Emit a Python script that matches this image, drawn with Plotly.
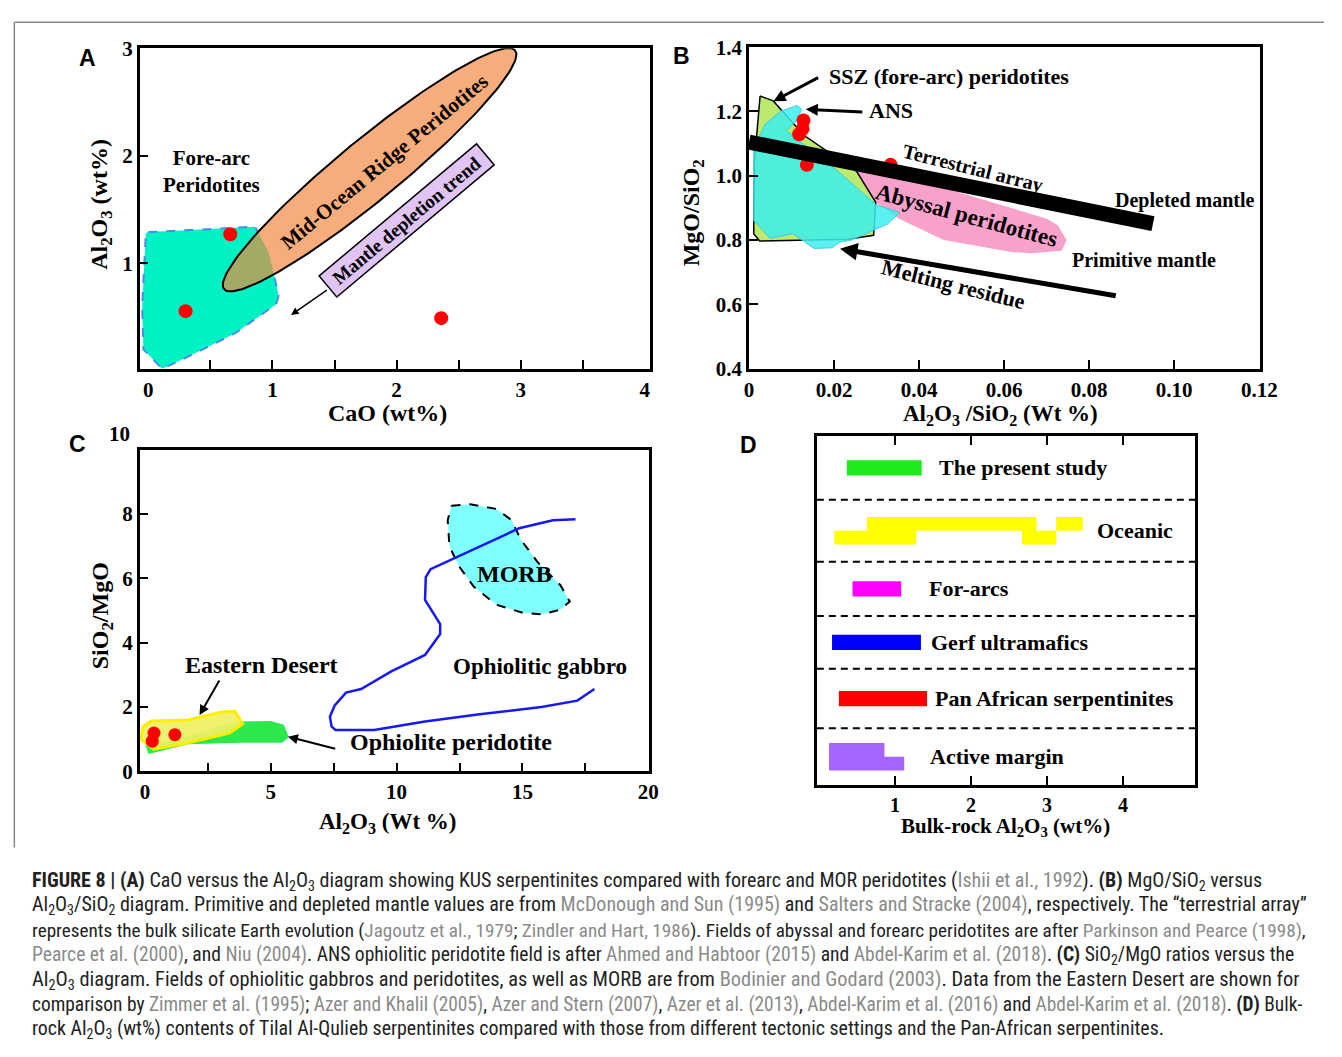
import numpy as np
import plotly.graph_objects as go

W, H = 1342, 1057
SERIF = "Liberation Serif, Times New Roman, serif"
SANS = "Liberation Sans, Arial, sans-serif"
NARROW = "Liberation Sans Narrow, Arial Narrow, Roboto Condensed, sans-serif"

# ---------------- Panel A : CaO vs Al2O3 ----------------
A_FOREARC_CAO = [0.0, 0.86, 0.97, 1.05, 1.03, 0.70, 0.30, 0.11, -0.04, -0.05, -0.02]
A_FOREARC_AL = [1.29, 1.34, 1.10, 0.70, 0.62, 0.35, 0.12, 0.02, 0.20, 0.60, 1.28]
A_MOR_AXIS_CAO = [0.61, 2.955]
A_MOR_AXIS_AL = [0.76, 2.98]
A_MOR_HALFWIDTH_PX = 31
A_SAMPLE_CAO = [0.30, 0.66, 2.36]
A_SAMPLE_AL = [0.555, 1.27, 0.49]
A_XTICKS = [0, 1, 2, 3, 4]
A_YTICKS = [0, 1, 2, 3]

# ---------------- Panel B : Al2O3/SiO2 vs MgO/SiO2 ----------------
B_ABYSSAL_X = [0.0245, 0.0326, 0.0702, 0.0726, 0.0747, 0.0735, 0.0665, 0.0617, 0.0458, 0.0354, 0.0298, 0.0245]
B_ABYSSAL_Y = [1.014, 1.014, 0.866, 0.846, 0.800, 0.767, 0.759, 0.763, 0.800, 0.866, 0.917, 1.014]
B_SSZ_X = [0.0026, 0.0057, 0.0129, 0.0253, 0.0298, 0.0293, 0.0232, 0.0025, 0.0011, 0.0013, 0.0026]
B_SSZ_Y = [1.248, 1.233, 1.126, 1.014, 0.917, 0.815, 0.803, 0.797, 0.82, 1.05, 1.248]
B_ANS_X = [0.0113, 0.0124, 0.0111, 0.0088, 0.0214, 0.0299, 0.0354, 0.0326, 0.0241, 0.0214, 0.0195,
           0.0153, 0.0103, 0.0050, 0.0011, 0.0011, 0.0038, 0.0076, 0.0113]
B_ANS_Y = [1.219, 1.207, 1.171, 1.140, 1.009, 0.910, 0.886, 0.850, 0.800, 0.794, 0.776,
           0.774, 0.820, 0.805, 0.861, 1.085, 1.161, 1.202, 1.219]
B_TERRESTRIAL_X = [0.0, 0.0950]
B_TERRESTRIAL_Y = [1.105, 0.851]
B_SAMPLE_X = [0.0128, 0.0126, 0.0118, 0.0136, 0.0333]
B_SAMPLE_Y = [1.172, 1.146, 1.129, 1.034, 1.034]
B_XTICKS = [0, 0.02, 0.04, 0.06, 0.08, 0.10, 0.12]
B_XTICKTEXT = ["0", "0.02", "0.04", "0.06", "0.08", "0.10", "0.12"]
B_YTICKS = [0.4, 0.6, 0.8, 1.0, 1.2, 1.4]
B_YTICKTEXT = ["0.4", "0.6", "0.8", "1.0", "1.2", "1.4"]

# ---------------- Panel C : Al2O3 vs SiO2/MgO ----------------
C_OPH_PER_X = [3.65, 5.0, 5.52, 5.72, 5.45, 3.8, 1.71, 0.14, 0.0, 1.25, 3.65]
C_OPH_PER_Y = [1.55, 1.57, 1.45, 1.06, 0.89, 0.89, 0.84, 0.54, 0.84, 1.0, 1.55]
C_EDESERT_X = [-0.16, -0.08, 0.25, 1.71, 3.05, 3.58, 3.88, 3.35, 1.71, 0.36, -0.16]
C_EDESERT_Y = [0.99, 1.39, 1.57, 1.60, 1.85, 1.87, 1.47, 1.19, 0.89, 0.69, 0.99]
C_GABBRO_X = [17.11, 16.21, 14.87, 12.47, 11.35, 11.16, 11.13, 11.73, 11.73, 11.13, 9.79, 8.59,
              7.99, 7.54, 7.35, 7.42, 7.57, 9.11, 11.13, 13.22, 15.76, 17.18, 17.86]
C_GABBRO_Y = [7.84, 7.81, 7.56, 6.70, 6.29, 6.04, 5.33, 4.58, 4.27, 3.62, 3.11, 2.56,
              2.45, 2.05, 1.70, 1.39, 1.29, 1.29, 1.55, 1.77, 2.00, 2.20, 2.56]
C_MORB_X = [12.18, 12.92, 13.97, 14.57, 14.94, 15.61, 16.51, 16.88, 16.51, 15.76, 15.02, 13.97, 13.07, 12.47, 12.10, 12.03, 12.18]
C_MORB_Y = [8.26, 8.31, 8.16, 7.81, 7.20, 6.50, 5.79, 5.28, 5.03, 4.88, 4.93, 5.18, 5.74, 6.39, 7.00, 7.81, 8.26]
C_SAMPLE_X = [0.36, 0.29, 1.19]
C_SAMPLE_Y = [1.19, 0.94, 1.14]
C_XTICKS = [0, 5, 10, 15, 20]
C_YTICKS = [0, 2, 4, 6, 8]

# ---------------- Panel D : Bulk-rock Al2O3 ranges ----------------
D_SETTINGS = ["The present study", "Oceanic", "For-arcs", "Gerf ultramafics",
              "Pan African serpentinites", "Active margin"]
D_COLORS = ["#1EEB1E", "#FFFF00", "#FF00FF", "#0000FF", "#FF0000", "#A566FF"]
# (start, end, level): level 0 = single bar, 1 = upper step, -1 = lower step
D_RANGES = [
    [(0.365, 1.35, 0)],
    [(0.20, 1.28, -1), (2.67, 3.12, -1), (0.63, 2.86, 1), (3.12, 3.47, 1)],
    [(0.44, 1.08, 0)],
    [(0.17, 1.34, 0)],
    [(0.26, 1.42, 0)],
    [(0.13, 1.12, -1), (0.13, 0.86, 1)],
]
D_XTICKS = [1, 2, 3, 4]

# panel geometry in page pixels
PANELS = {
    "A": dict(px=(137, 656), py=(37, 365), xr=(-0.07, 4.04), yr=(0.02, 3.0)),
    "B": dict(px=(757, 1277), py=(36, 365), xr=(0.0, 0.1202), yr=(0.4, 1.4)),
    "C": dict(px=(137, 655), py=(448, 777), xr=(-0.21, 20.02), yr=(0.0, 10.0)),
    "D": dict(px=(826, 1211), py=(434, 791), xr=(-0.03, 4.95), yr=(0.0, 357.0)),
}
D_ROW_HEIGHTS = [65, 63.5, 55.5, 54, 61, 58]
D_LABEL_X = [1.546, 3.63, 1.416, 1.442, 1.494, 1.43]


def fx(px):
    return px / W


def fy(py):
    return 1 - py / H


def domain(p):
    return ([fx(p["px"][0]), fx(p["px"][1])], [fy(p["py"][1]), fy(p["py"][0])])


def scale(p):
    sx = (p["px"][1] - p["px"][0]) / (p["xr"][1] - p["xr"][0])
    sy = (p["py"][1] - p["py"][0]) / (p["yr"][1] - p["yr"][0])
    return sx, sy


def ellipse(xs, ys, hw_px, sx, sy, n=180):
    x1, y1, x2, y2 = xs[0] * sx, ys[0] * sy, xs[1] * sx, ys[1] * sy
    cx, cy = (x1 + x2) / 2, (y1 + y2) / 2
    a = np.hypot(x2 - x1, y2 - y1) / 2
    th = np.arctan2(y2 - y1, x2 - x1)
    t = np.linspace(0, 2 * np.pi, n, endpoint=False)
    ex = cx + a * np.cos(t) * np.cos(th) - hw_px * np.sin(t) * np.sin(th)
    ey = cy + a * np.cos(t) * np.sin(th) + hw_px * np.sin(t) * np.cos(th)
    return list(ex / sx), list(ey / sy)


def clip_polygon(subject, clipper):
    def inside(p, a, b):
        return (b[0] - a[0]) * (p[1] - a[1]) - (b[1] - a[1]) * (p[0] - a[0]) >= 0

    def inter(p, q, a, b):
        x1, y1 = p; x2, y2 = q; x3, y3 = a; x4, y4 = b
        den = (x1 - x2) * (y3 - y4) - (y1 - y2) * (x3 - x4)
        t = ((x1 - x3) * (y3 - y4) - (y1 - y3) * (x3 - x4)) / den
        return (x1 + t * (x2 - x1), y1 + t * (y2 - y1))

    out = list(subject)
    for i in range(len(clipper)):
        a, b = clipper[i], clipper[(i + 1) % len(clipper)]
        inp, out = out, []
        if not inp:
            break
        s = inp[-1]
        for e in inp:
            if inside(e, a, b):
                if not inside(s, a, b):
                    out.append(inter(s, e, a, b))
                out.append(e)
            elif inside(s, a, b):
                out.append(inter(s, e, a, b))
            s = e
    return out


fig = go.Figure()


def poly(x, y, xa, ya, fill, line=None, width=0, dash=None):
    fig.add_trace(go.Scatter(
        x=x, y=y, xaxis=xa, yaxis=ya, mode="lines", fill="toself", fillcolor=fill,
        line=dict(color=line if line else "rgba(0,0,0,0)", width=width, dash=dash),
        hoverinfo="skip", showlegend=False))


# ---- Panel A
pA = PANELS["A"]
sxA, syA = scale(pA)
poly(A_FOREARC_CAO, A_FOREARC_AL, "x", "y", "#00F2C4", "#4A8CE8", 2, "dash")
ex, ey = ellipse(A_MOR_AXIS_CAO, A_MOR_AXIS_AL, A_MOR_HALFWIDTH_PX, sxA, syA)
poly(ex + [ex[0]], ey + [ey[0]], "x", "y", "#F7AC7C")
subj = list(zip(A_FOREARC_CAO[:-1], A_FOREARC_AL[:-1]))
ov = clip_polygon(subj, list(zip(ex, ey)))
if ov:
    poly([p[0] for p in ov] + [ov[0][0]], [p[1] for p in ov] + [ov[0][1]], "x", "y", "#A3AA66")
fig.add_trace(go.Scatter(x=ex + [ex[0]], y=ey + [ey[0]], xaxis="x", yaxis="y", mode="lines",
                         line=dict(color="black", width=2), hoverinfo="skip", showlegend=False))
fig.add_trace(go.Scatter(x=A_SAMPLE_CAO, y=A_SAMPLE_AL, xaxis="x", yaxis="y", mode="markers",
                         marker=dict(color="#FF0000", size=14), hoverinfo="skip", showlegend=False))

# ---- Panel B
poly(B_ABYSSAL_X, B_ABYSSAL_Y, "x2", "y2", "#F7A1CB")
poly(B_SSZ_X, B_SSZ_Y, "x2", "y2", "#BDE96F", "black", 1.5)
poly(B_ANS_X, B_ANS_Y, "x2", "y2", "rgba(60,238,238,0.85)", "rgba(60,200,220,0.9)", 1)
fig.add_trace(go.Scatter(x=B_SAMPLE_X, y=B_SAMPLE_Y, xaxis="x2", yaxis="y2", mode="markers",
                         marker=dict(color="#FF0000", size=14), hoverinfo="skip", showlegend=False))
fig.add_trace(go.Scatter(x=B_TERRESTRIAL_X, y=B_TERRESTRIAL_Y, xaxis="x2", yaxis="y2", mode="lines",
                         line=dict(color="black", width=15), hoverinfo="skip", showlegend=False))

# ---- Panel C
poly(C_OPH_PER_X, C_OPH_PER_Y, "x3", "y3", "#2CE84C")
poly(C_EDESERT_X, C_EDESERT_Y, "x3", "y3", "rgba(240,240,100,0.92)", "#FFEE00", 3)
poly(C_MORB_X, C_MORB_Y, "x3", "y3", "#80FFFF", "black", 2, "dash")
fig.add_trace(go.Scatter(x=C_GABBRO_X, y=C_GABBRO_Y, xaxis="x3", yaxis="y3", mode="lines",
                         line=dict(color="#1818F0", width=2.5), hoverinfo="skip", showlegend=False))
fig.add_trace(go.Scatter(x=C_SAMPLE_X, y=C_SAMPLE_Y, xaxis="x3", yaxis="y3", mode="markers",
                         marker=dict(color="#FF0000", size=13), hoverinfo="skip", showlegend=False))

# ---- Panel D
edges = [sum(D_ROW_HEIGHTS)]
for hgt in D_ROW_HEIGHTS:
    edges.append(edges[-1] - hgt)
centers = [(edges[i] + edges[i + 1]) / 2 for i in range(len(D_ROW_HEIGHTS))]
BAR_HALF = 7.75
STEP = 14
for name, col, rngs, c in zip(D_SETTINGS, D_COLORS, D_RANGES, centers):
    xs, ys = [], []
    for (s, e, lev) in rngs:
        if lev == 0:
            y0, y1 = c - BAR_HALF, c + BAR_HALF
        elif lev == 1:
            y0, y1 = c, c + STEP
        else:
            y0, y1 = c - STEP, c
        xs += [s, e, e, s, s, None]
        ys += [y0, y0, y1, y1, y0, None]
    fig.add_trace(go.Scatter(x=xs, y=ys, xaxis="x4", yaxis="y4", mode="lines", fill="toself",
                             fillcolor=col, line=dict(width=0, color=col), hoverinfo="skip",
                             showlegend=False, name=name))


def axis(p, which, tickvals, ticktext, minor_vals, anchor, mirror=True, show_labels=True, size=21):
    dx, dy = domain(p)
    return dict(
        range=list(p["xr"] if which == "x" else p["yr"]),
        domain=dx if which == "x" else dy,
        anchor=anchor, showline=True, linecolor="black", linewidth=2.5, mirror=mirror,
        showgrid=False, zeroline=False, ticks="", tickmode="array",
        tickvals=tickvals, ticktext=ticktext, showticklabels=show_labels,
        tickfont=dict(family=SERIF, size=size, color="black", weight="bold"), fixedrange=True,
        minor=dict(tickmode="array", tickvals=minor_vals, ticks="inside", ticklen=9,
                   tickwidth=2, tickcolor="black"),
    )


layout = dict(
    width=W, height=H, margin=dict(l=0, r=0, t=0, b=0),
    paper_bgcolor="white", plot_bgcolor="white", showlegend=False,
    xaxis=axis(pA, "x", A_XTICKS, [str(v) for v in A_XTICKS], [0.5, 1, 1.5, 2, 2.5, 3, 3.5], "y"),
    yaxis=axis(pA, "y", A_YTICKS, [str(v) for v in A_YTICKS], [1, 2], "x"),
    xaxis2=axis(PANELS["B"], "x", B_XTICKS, B_XTICKTEXT, [0.02, 0.04, 0.06, 0.08, 0.10], "y2"),
    yaxis2=axis(PANELS["B"], "y", B_YTICKS, B_YTICKTEXT, [0.6, 0.8, 1.0, 1.2], "x2"),
    xaxis3=axis(PANELS["C"], "x", C_XTICKS, [str(v) for v in C_XTICKS], [2.5, 5, 7.5, 10, 12.5, 15, 17.5], "y3"),
    yaxis3=axis(PANELS["C"], "y", C_YTICKS, [str(v) for v in C_YTICKS], [2, 4, 6, 8], "x3"),
    xaxis4=axis(PANELS["D"], "x", D_XTICKS, [str(v) for v in D_XTICKS], D_XTICKS, "y4", mirror="ticks", size=20),
    yaxis4=axis(PANELS["D"], "y", [], [], [], "x4", show_labels=False),
)
fig.update_layout(**layout)

ann = []


def txt(text, x, y, xref, yref, size=21, angle=0, xanchor="center", font=SERIF, bold=True, **kw):
    d = dict(text=text, x=x, y=y, xref=xref, yref=yref, showarrow=False, textangle=angle,
             xanchor=xanchor, yanchor="middle",
             font=dict(family=font, size=size, color="black", weight="bold" if bold else "normal"))
    d.update(kw)
    ann.append(d)


def arrow(hx, hy, tx, ty, xref, yref, width=1.5, size=1.0):
    ann.append(dict(text="", x=hx, y=hy, ax=tx, ay=ty, xref=xref, yref=yref, axref=xref, ayref=yref,
                    showarrow=True, arrowhead=2, arrowsize=size, arrowwidth=width, arrowcolor="black",
                    standoff=0))


# Panel A labels
txt("Fore-arc<br>Peridotites", 0.51, 1.855, "x", "y", 21)
txt("Mid-Ocean Ridge Peridotites", 1.9, 1.94, "x", "y", 21, -39.6)
txt("Mantle depletion trend", 2.08, 1.40, "x", "y", 19, -40, bgcolor="#DFC4F4",
    bordercolor="black", borderwidth=1.5, borderpad=2, width=200, height=22)
arrow(1.15, 0.52, 1.45, 0.76, "x", "y", 1.5)

# Panel B labels
arrow(0.00576, 1.232, 0.0166, 1.308, "x2", "y2", 3, 0.8)
txt("SSZ (fore-arc) peridotites", 0.01843, 1.308, "x2", "y2", 22, xanchor="left")
arrow(0.01336, 1.207, 0.027, 1.198, "x2", "y2", 3, 0.8)
txt("ANS", 0.02765, 1.202, "x2", "y2", 22, xanchor="left")
txt("Terrestrial array", 0.05276, 1.024, "x2", "y2", 20, 14)
txt("Abyssal peridotites", 0.05115, 0.877, "x2", "y2", 23, 15)
txt("Depleted mantle", 0.1025, 0.923, "x2", "y2", 20)
txt("Primitive mantle", 0.0929, 0.739, "x2", "y2", 20)
txt("Melting residue", 0.0482, 0.663, "x2", "y2", 22, 14)
arrow(0.0214, 0.773, 0.0866, 0.626, "x2", "y2", 5, 0.7)

# Panel C labels
txt("MORB", 14.7, 6.14, "x3", "y3", 24)
txt("Ophiolitic gabbro", 15.68, 3.26, "x3", "y3", 23)
txt("Eastern Desert", 4.63, 3.32, "x3", "y3", 24)
arrow(2.17, 1.75, 2.99, 2.87, "x3", "y3", 2)
txt("Ophiolite peridotite", 12.17, 0.90, "x3", "y3", 24)
arrow(5.68, 1.08, 7.62, 0.69, "x3", "y3", 2)

# Panel D labels
for name, lx, c in zip(D_SETTINGS, D_LABEL_X, centers):
    txt(name, lx, c, "x4", "y4", 22, xanchor="left")


def ptxt(text, px, py, size, angle=0, font=SERIF, xanchor="center"):
    txt(text, fx(px), fy(py), "paper", "paper", size, angle, xanchor=xanchor, font=font)


ptxt("10", 117, 432, 21)
ptxt("Al<sub>2</sub>O<sub>3</sub> (wt%)", 97, 197, 24, -90)
ptxt("CaO (wt%)", 389, 410, 24)
ptxt("MgO/SiO<sub>2</sub>", 700, 206, 24, -90)
ptxt("Al<sub>2</sub>O<sub>3</sub> /SiO<sub>2</sub> (Wt %)", 1013, 412, 23)
ptxt("SiO<sub>2</sub>/MgO", 99, 618, 24, -90)
ptxt("Al<sub>2</sub>O<sub>3</sub> (Wt %)", 389, 830, 23)
ptxt("Bulk-rock Al<sub>2</sub>O<sub>3</sub> (wt%)", 1018, 834, 21)
ptxt("A", 84, 47, 23, font=SANS)
ptxt("B", 688, 45, 23, font=SANS)
ptxt("C", 74, 442, 23, font=SANS)
ptxt("D", 756, 443, 23, font=SANS)


# caption
def G(s):
    return "<span style='color:#8a8a8a'>" + s + "</span>"


SUB2 = "<sub>2</sub>"
SUB3 = "<sub>3</sub>"
AL2O3 = "Al" + SUB2 + "O" + SUB3
CAPTION = [
    "<b>FIGURE 8 | (A)</b> CaO versus the " + AL2O3 + " diagram showing KUS serpentinites compared with forearc and MOR peridotites (" + G("Ishii et al., 1992") + "). <b>(B)</b> MgO/SiO" + SUB2 + " versus",
    AL2O3 + "/SiO" + SUB2 + " diagram. Primitive and depleted mantle values are from " + G("McDonough and Sun (1995)") + " and " + G("Salters and Stracke (2004)") + ", respectively. The “terrestrial array”",
    "represents the bulk silicate Earth evolution (" + G("Jagoutz et al., 1979") + "; " + G("Zindler and Hart, 1986") + "). Fields of abyssal and forearc peridotites are after " + G("Parkinson and Pearce (1998)") + ",",
    G("Pearce et al. (2000)") + ", and " + G("Niu (2004)") + ". ANS ophiolitic peridotite field is after " + G("Ahmed and Habtoor (2015)") + " and " + G("Abdel-Karim et al. (2018)") + ". <b>(C)</b> SiO" + SUB2 + "/MgO ratios versus the",
    AL2O3 + " diagram. Fields of ophiolitic gabbros and peridotites, as well as MORB are from " + G("Bodinier and Godard (2003)") + ". Data from the Eastern Desert are shown for",
    "comparison by " + G("Zimmer et al. (1995)") + "; " + G("Azer and Khalil (2005)") + ", " + G("Azer and Stern (2007)") + ", " + G("Azer et al. (2013)") + ", " + G("Abdel-Karim et al. (2016)") + " and " + G("Abdel-Karim et al. (2018)") + ". <b>(D)</b> Bulk-",
    "rock " + AL2O3 + " (wt%) contents of Tilal Al-Qulieb serpentinites compared with those from different tectonic settings and the Pan-African serpentinites.",
]
CAPTION_Y = [889, 914, 940, 965, 990, 1016, 1041]
CAPTION_SIZE = [20.0, 20.0, 19.2, 19.6, 20.4, 19.4, 19.9]
for line, py, fs in zip(CAPTION, CAPTION_Y, CAPTION_SIZE):
    ann.append(dict(text=line, x=fx(25), y=fy(py), xref="paper", yref="paper", showarrow=False,
                    xanchor="left", yanchor="middle",
                    font=dict(family=NARROW, size=fs, color="#222222")))

fig.update_layout(annotations=ann)

fig.update_layout(shapes=[
    dict(type="line", xref="paper", yref="paper", x0=fx(9.5), x1=1, y0=fy(10.5), y1=fy(10.5),
         line=dict(color="#888888", width=1.5)),
    dict(type="line", xref="paper", yref="paper", x0=fx(9.5), x1=fx(9.5), y0=fy(10.5), y1=fy(855),
         line=dict(color="#888888", width=1.5)),
] + [
    dict(type="line", xref="x4 domain", yref="y4", x0=0, x1=1, y0=e, y1=e,
         line=dict(color="black", width=2, dash="7px,5px")) for e in edges[1:-1]
])

fig.write_html("out.html", config={"displayModeBar": False},
               post_script="document.body.style.margin='0';document.body.style.overflow='hidden';")
